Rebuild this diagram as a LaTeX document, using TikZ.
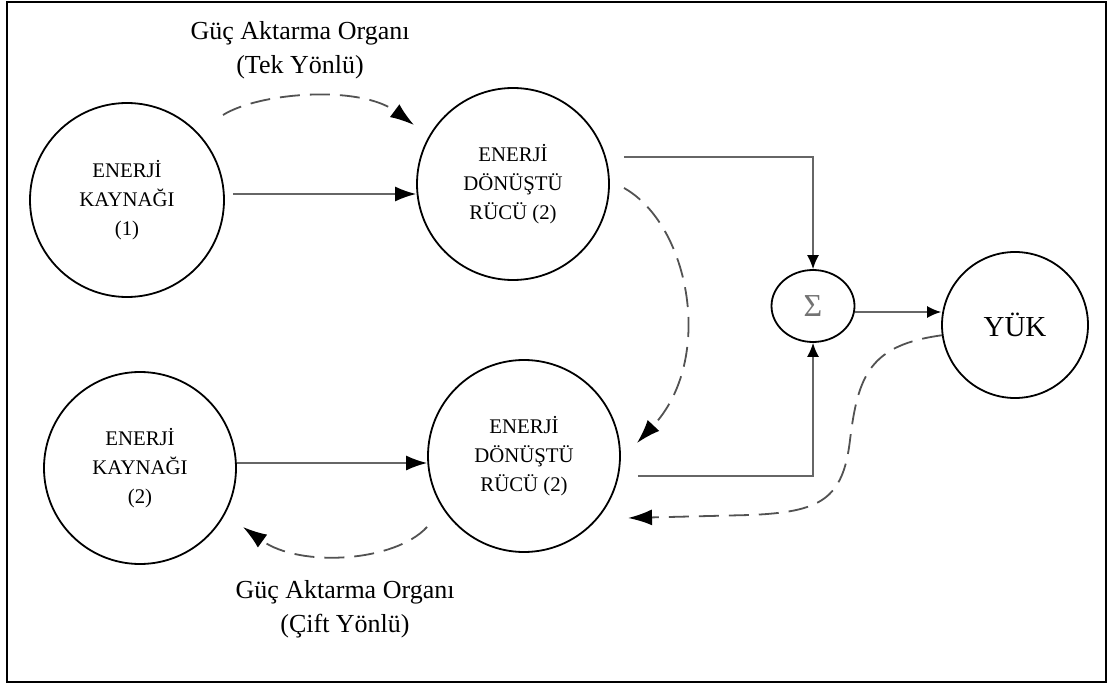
\documentclass[tikz,border=0pt]{standalone}
\usepackage{fontspec}
\setmainfont{Liberation Serif}
\usetikzlibrary{shapes.geometric}
\usetikzlibrary{arrows.meta}

\begin{document}
\begin{tikzpicture}[x=0.5pt, y=-0.5pt,
    circ/.style = {draw, circle, line width=0.9pt, inner sep=0pt, align=center,
                   font=\fontsize{10.4}{14.5}\selectfont},
    conn/.style = {draw=black!60, line width=0.75pt, -{Latex[length=10.5pt,width=7.5pt,color=black]}},
    connsm/.style = {conn, -{Latex[length=7pt,width=6pt,color=black]}},
    flow/.style = {draw=black!68, line width=0.9pt, dash pattern=on 10pt off 5pt,
                   -{Latex[length=12pt,width=8pt,color=black]}},
    lbl/.style = {align=center, font=\fontsize{13}{17}\selectfont}]
    \useasboundingbox (0,0) rectangle (1113,684);
    \draw[line width=1pt] (7,2) rectangle (1106,682);

    % sources and converters
    \node[circ, minimum size=97pt] (src1) at (127,200) {ENERJİ\\KAYNAĞI\\(1)};
    \node[circ, minimum size=96pt] (convA) at (513,184) {ENERJİ\\DÖNÜŞTÜ\\RÜCÜ (2)};
    \node[circ, minimum size=96pt] (src2) at (140,468) {ENERJİ\\KAYNAĞI\\(2)};
    \node[circ, minimum size=96pt] (convB) at (524,456) {ENERJİ\\DÖNÜŞTÜ\\RÜCÜ (2)};
    \node[draw, ellipse, line width=0.9pt, minimum width=41.5pt, minimum height=36pt,
          inner sep=0pt, text=black!55, font=\fontsize{16}{16}\selectfont] (sig) at (813,306) {Σ};
    \node[circ, minimum size=73pt, font=\fontsize{14.5}{14.5}\selectfont] (load) at (1015,325) {YÜK};

    \node[lbl] (lbltek) at (300,50) {Güç Aktarma Organı\\(Tek Yönlü)};
    \node[lbl] (lblcift) at (345,609) {Güç Aktarma Organı\\(Çift Yönlü)};

    % power lines
    \draw[conn] ([xshift=4pt,yshift=3pt]src1.east) -- ([yshift=-5pt]convA.west);
    \draw[conn] ([yshift=2.5pt]src2.east) -- ([yshift=-3.5pt]convB.west);
    \draw[connsm] ([xshift=7pt,yshift=13.5pt]convA.east) -| (sig.north);
    \draw[connsm] ([xshift=8.5pt,yshift=-10pt]convB.east) -| (sig.south);
    \draw[connsm] ([yshift=-3pt]sig.east) -- ([yshift=6.5pt]load.west);

    % transfer paths
    \coordinate (t1) at (223,115);
    \coordinate (t2) at (414,125);
    \coordinate (r1) at (624,188);
    \coordinate (r2) at (637,443);
    \coordinate (b1) at (427,527);
    \coordinate (b2) at (243,527);
    \coordinate (y2) at (628,518);
    \draw[flow] (t1) .. controls (260,92) and (360,85) .. (t2);
    \draw[flow] (r1) .. controls (690,225) and (715,360) .. (r2);
    \draw[flow] (b1) .. controls (395,562) and (300,568) .. (b2);
    \draw[flow] (load.188) .. controls (870,345) and (858,375) .. (850,440)
        .. controls (843,500) and (820,512) .. (750,515) -- (y2);
\end{tikzpicture}
\end{document}
